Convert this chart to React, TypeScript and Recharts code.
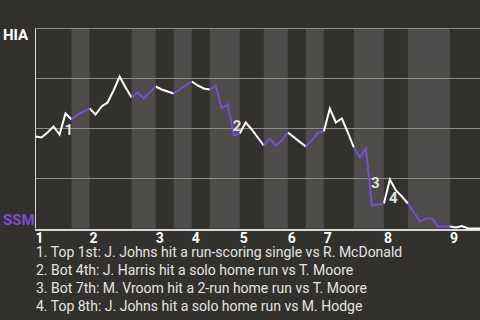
import React from 'react';
import { ComposedChart, Line, XAxis, YAxis, ReferenceArea, ReferenceLine, ReferenceDot } from 'recharts';

const awayTeam = 'HIA';
const homeTeam = 'SSM';

// plate appearances per half-inning, top 1st through top 9th
const halfInningPAs = [6, 3, 7, 4, 3, 3, 3, 5, 4, 4, 3, 3, 5, 5, 4, 7, 5];

const inningLabels = ['1', '2', '3', '4', '5', '6', '7', '8', '9'];

// HIA win probability after each plate appearance (0 = first pitch)
const winProb = [
  0.46, 0.455, 0.48, 0.51, 0.47, 0.575, 0.545,
  0.57, 0.585, 0.6,
  0.57, 0.61, 0.63, 0.69, 0.76, 0.705, 0.655,
  0.68, 0.65, 0.68, 0.71,
  0.695, 0.685, 0.675,
  0.695, 0.715, 0.735,
  0.715, 0.7, 0.695,
  0.715, 0.6, 0.62, 0.465, 0.475,
  0.53, 0.495, 0.455, 0.415,
  0.45, 0.415, 0.44, 0.48,
  0.457, 0.433, 0.41,
  0.44, 0.478, 0.485,
  0.6, 0.53, 0.55, 0.48, 0.405,
  0.355, 0.4, 0.115, 0.12, 0.125,
  0.245, 0.19, 0.16, 0.125,
  0.08, 0.035, 0.05, 0.05, 0.01, 0.01, 0.01,
  0.005, 0.012, 0, 0, 0,
];

const eventPAs = [5, 33, 56, 59];
const eventTexts = [
  'Top 1st: J. Johns hit a run-scoring single vs R. McDonald',
  'Bot 4th: J. Harris hit a solo home run vs T. Moore',
  'Bot 7th: M. Vroom hit a 2-run home run vs T. Moore',
  'Top 8th: J. Johns hit a solo home run vs M. Hodge',
];

const BG = '#33312e';
const BAND = '#4e4d4b';
const GRID = '#8d8c89';
const AXIS = '#d6d6d6';
const PURPLE = '#7b4dd2';
const FONT = 'Roboto, sans-serif';

const bounds: number[] = [0];
halfInningPAs.forEach((n) => bounds.push(bounds[bounds.length - 1] + n));
const halves = halfInningPAs.map((n, i) => ({ start: bounds[i], end: bounds[i + 1], top: i % 2 === 0 }));
const inningStarts = halves.filter((h) => h.top).map((h) => h.start);
const lastPA = bounds[bounds.length - 1];

const data = winProb.map((wp, pa) => {
  const inTop = halves.some((h) => h.top && pa >= h.start && pa <= h.end);
  const inBot = halves.some((h) => !h.top && pa >= h.start && pa <= h.end);
  return { pa, wp, top: inTop ? wp : null, bot: inBot ? wp : null };
});

const InningTick = (props: any) => {
  const { x, y, payload } = props;
  const idx = inningStarts.indexOf(payload.value);
  return (
    <text x={x} y={y + 14} textAnchor="start" fill="#ffffff" fontFamily={FONT} fontSize={14} fontWeight={700}>
      {inningLabels[idx]}
    </text>
  );
};

const TeamTick = (props: any) => {
  const { y, payload } = props;
  const isAway = payload.value === 1;
  return (
    <text x={3} y={isAway ? y + 11 : y - 3.5} textAnchor="start" fill={isAway ? '#ffffff' : PURPLE}
      fontFamily={FONT} fontSize={15} fontWeight={700}>
      {isAway ? awayTeam : homeTeam}
    </text>
  );
};

export default function App() {
  return (
    <div style={{ position: 'absolute', left: 0, top: 0, width: 480, height: 320, background: BG, overflow: 'hidden' }}>
      <ComposedChart width={480} height={320} data={data} margin={{ top: 28.5, right: 0, bottom: 61.5, left: 0 }}>
        <XAxis type="number" dataKey="pa" domain={[0, lastPA]} ticks={inningStarts} interval={0}
          tick={<InningTick />} tickSize={0} tickMargin={0} axisLine={false} tickLine={false} height={30} />
        <YAxis type="number" domain={[0, 1]} ticks={[0, 1]} width={35.5} tick={<TeamTick />}
          tickSize={0} tickMargin={0} axisLine={false} tickLine={false} />
        {halves.filter((h) => !h.top).map((h) => (
          <ReferenceArea key={h.start} x1={h.start} x2={h.end} y1={0} y2={1} fill={BAND} fillOpacity={1} stroke="none" />
        ))}
        {[0.25, 0.5, 0.75, 1].map((v) => (
          <ReferenceLine key={v} y={v} stroke={GRID} strokeWidth={1} />
        ))}
        <ReferenceLine x={0} stroke={AXIS} strokeWidth={1} />
        <ReferenceLine y={0} shape={(p: any) => (
          <line x1={p.x1 - 0.5} x2={p.x2} y1={p.y1 + 1.5} y2={p.y2 + 1.5} stroke={AXIS} strokeWidth={2} />
        )} />
        <Line type="linear" dataKey="top" stroke="#ffffff" strokeWidth={2} dot={false} isAnimationActive={false} connectNulls={false} />
        <Line type="linear" dataKey="bot" stroke={PURPLE} strokeWidth={2} dot={false} isAnimationActive={false} connectNulls={false} />
        {eventPAs.map((pa, i) => (
          <ReferenceDot key={pa} x={pa} y={(winProb[pa - 1] + winProb[pa]) / 2} r={0}
            shape={(p: any) => (
              <text x={p.cx - 1} y={p.cy + 11} fill="#e2e2e2" fontFamily={FONT} fontSize={15} fontWeight={700}>
                {i + 1}
              </text>
            )} />
        ))}
      </ComposedChart>
      <div style={{ position: 'absolute', left: 36, top: 243, fontFamily: FONT, fontSize: 14, lineHeight: '18px', color: '#e4e4e4', whiteSpace: 'nowrap' }}>
        {eventTexts.map((t, i) => (
          <div key={i}>{`${i + 1}. ${t}`}</div>
        ))}
      </div>
    </div>
  );
}
